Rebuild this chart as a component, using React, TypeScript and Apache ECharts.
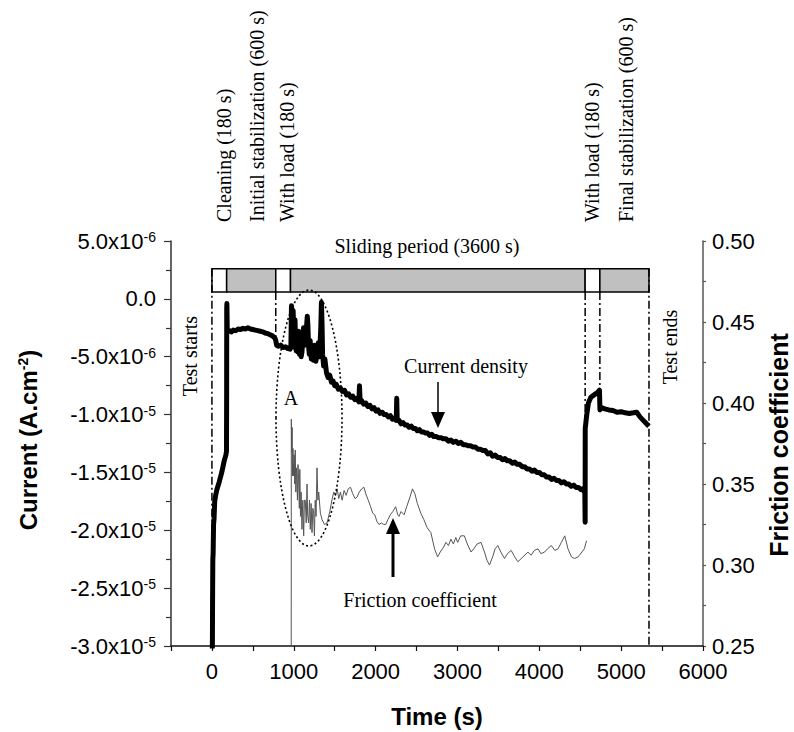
import React, { useEffect, useRef } from "react";
import * as echarts from "echarts";

// ---------- data ----------
// Current density (units of 1e-6 A.cm^-2) vs time (s)
const currentTime = [
  3, 6, 8, 11, 15, 20, 26, 34, 45, 60, 90, 120, 150, 170, 178, 180, 181, 183, 185, 187, 190,
  200, 220, 240, 260, 290, 320, 350, 380, 410, 440, 470, 500, 530, 560, 590, 620, 650, 680, 710, 740, 770, 780,
  790, 810, 840, 870, 900, 930, 955, 965, 972, 978, 985, 992, 1000, 1008, 1015, 1022, 1030, 1040, 1050,
  1060, 1070, 1080, 1090, 1100, 1110, 1120, 1135, 1150, 1165, 1172, 1180, 1190, 1200, 1215, 1228, 1240,
  1255, 1270, 1285, 1300, 1315, 1330, 1338, 1345, 1352, 1365, 1380,
  1400, 1420, 1440, 1460, 1480, 1500, 1520, 1545, 1570, 1595, 1620, 1645, 1670, 1695, 1720, 1745, 1770,
  1795, 1803, 1811, 1830, 1855, 1880, 1905, 1930, 1955, 1980, 2005, 2030, 2055, 2080, 2105, 2130, 2155,
  2180, 2205, 2230, 2252, 2258, 2264, 2285, 2310, 2335, 2360, 2385, 2410, 2435, 2460, 2485, 2510, 2535,
  2560, 2585, 2610, 2635, 2660, 2685, 2710, 2740, 2770, 2800, 2830, 2860, 2890, 2920, 2950, 2980, 3010,
  3040, 3070, 3100, 3130, 3160, 3190, 3220, 3250, 3280, 3310, 3340, 3370, 3400, 3430, 3460, 3490, 3520,
  3550, 3580, 3610, 3640, 3670, 3700, 3730, 3760, 3790, 3820, 3850, 3880, 3910, 3940, 3970, 4000, 4030,
  4060, 4090, 4120, 4150, 4180, 4210, 4240, 4270, 4300, 4330, 4360, 4390, 4420, 4450, 4480, 4510, 4540,
  4556, 4560, 4561, 4580, 4600, 4630, 4670, 4710, 4735, 4741, 4760, 4800, 4850, 4900, 4950, 5000, 5050,
  5100, 5150, 5190, 5230, 5270, 5310, 5340,
];
const currentValue = [
  -31, -29.5, -26, -22.5, -22, -19.5, -19, -17.5, -17, -16.5, -15.8, -15, -14, -13.5, -13.2, -8, -0.8, -0.4, -1.5, -2.6, -2.9,
  -2.8, -2.75, -2.85, -2.7, -2.75, -2.6, -2.65, -2.55, -2.6, -2.5, -2.6, -2.65, -2.7, -2.75, -2.8, -2.85, -2.95, -3.0, -3.1, -3.2, -3.4, -3.6,
  -4.0, -4.1, -4.0, -4.2, -4.15, -4.3, -4.35, -4.0, -0.6, -1.2, -3.5, -1.0, -2.5, -4.2, -1.8, -3.6, -4.5, -3.2, -4.6,
  -2.8, -4.8, -3.8, -5.0, -4.6, -3.5, -2.5, -4.0, -3.0, -1.5, -2.2, -4.0, -4.8, -3.6, -5.2, -4.2, -5.3,
  -4.0, -5.4, -4.8, -3.8, -5.0, -2.5, -0.3, -2.0, -4.8, -5.8, -5.2,
  -6.4, -6.8, -6.6, -7.2, -7.1, -7.5, -7.4, -7.8, -7.7, -8.0, -7.9, -8.3, -8.2, -8.5, -8.4, -8.7, -8.6,
  -8.9, -7.5, -8.9, -8.8, -9.1, -9.0, -9.3, -9.2, -9.5, -9.4, -9.7, -9.6, -9.9, -9.8, -10.0, -10.0, -10.2,
  -10.1, -10.4, -10.3, -10.5, -8.6, -10.5, -10.5, -10.8, -10.7, -10.9, -10.9, -11.1, -11.0, -11.2, -11.2, -11.4, -11.3,
  -11.5, -11.5, -11.6, -11.6, -11.8, -11.7, -11.9, -11.9, -12.0, -12.0, -12.1, -12.1, -12.3, -12.2, -12.4, -12.3, -12.5,
  -12.4, -12.6, -12.6, -12.7, -12.7, -12.8, -12.8, -13.0, -13.0, -13.1, -13.1, -13.4, -13.3, -13.6, -13.5, -13.7, -13.7,
  -13.9, -13.8, -14.0, -14.0, -14.2, -14.1, -14.3, -14.3, -14.5, -14.5, -14.7, -14.7, -14.9, -14.8, -15.0, -15.0, -15.2,
  -15.2, -15.4, -15.4, -15.6, -15.5, -15.7, -15.7, -15.9, -15.8, -16.0, -16.0, -16.2, -16.1, -16.3, -16.3, -16.5, -16.4,
  -16.8, -19.3, -11.2, -10.0, -9.0, -8.5, -8.3, -8.1, -7.9, -9.6, -9.4, -9.5, -9.6, -9.65, -9.8, -9.75, -9.85,
  -9.9, -9.85, -9.8, -10.2, -10.5, -10.8, -11.0,
];

// Friction coefficient vs time (s)
const frictionTime = [
  965, 969, 970, 975, 980, 985, 990, 998, 1005, 1012, 1018, 1025, 1035, 1045, 1052, 1059, 1068, 1074, 1082,
  1090, 1100, 1110, 1121, 1130, 1141, 1152, 1162, 1170, 1182, 1192, 1202, 1212, 1223, 1233, 1243, 1252, 1262,
  1272, 1284, 1295, 1305, 1325, 1346, 1375, 1407, 1440, 1470, 1489, 1510, 1530, 1550, 1570, 1591, 1615, 1640,
  1665, 1693, 1720, 1750, 1775, 1800, 1830, 1857, 1880, 1910, 1939, 1965, 1990, 2015, 2041, 2070, 2100, 2123,
  2150, 2180, 2210, 2245, 2270, 2286, 2310, 2348, 2380, 2420, 2450, 2480, 2510, 2552, 2590, 2630, 2675, 2720,
  2757, 2790, 2830, 2859, 2890, 2920, 2950, 2980, 3002, 3040, 3084, 3120, 3166, 3200, 3240, 3288, 3330, 3360,
  3391, 3430, 3460, 3493, 3530, 3575, 3610, 3656, 3700, 3738, 3800, 3861, 3900, 3940, 3984, 4020, 4065, 4100,
  4147, 4190, 4229, 4270, 4311, 4350, 4393, 4430, 4474, 4520, 4550, 4577,
];
const frictionValue = [
  0.2, 0.25, 0.39, 0.37, 0.385, 0.355, 0.372, 0.355, 0.368, 0.35, 0.371, 0.345, 0.36, 0.34, 0.362, 0.353, 0.335, 0.359, 0.33,
  0.345, 0.322, 0.34, 0.318, 0.34, 0.34, 0.326, 0.35, 0.33, 0.326, 0.34, 0.322, 0.338, 0.32, 0.335, 0.332, 0.318, 0.34,
  0.33, 0.36, 0.34, 0.345, 0.332, 0.328, 0.325, 0.326, 0.333, 0.341, 0.345, 0.343, 0.347, 0.341, 0.345, 0.34, 0.346, 0.343,
  0.347, 0.348, 0.344, 0.341, 0.342, 0.345, 0.347, 0.348, 0.344, 0.34, 0.336, 0.332, 0.331, 0.327, 0.325, 0.326, 0.325, 0.325,
  0.328, 0.331, 0.333, 0.336, 0.331, 0.33, 0.333, 0.331, 0.336, 0.342, 0.347, 0.344, 0.338, 0.332, 0.328, 0.323, 0.32, 0.31,
  0.305, 0.308, 0.311, 0.314, 0.312, 0.316, 0.313, 0.317, 0.314, 0.318, 0.318, 0.313, 0.308, 0.31, 0.313, 0.314, 0.308, 0.303,
  0.3, 0.305, 0.31, 0.312, 0.308, 0.304, 0.307, 0.309, 0.305, 0.302, 0.305, 0.308, 0.306, 0.309, 0.31, 0.307, 0.308, 0.31,
  0.312, 0.309, 0.31, 0.314, 0.318, 0.31, 0.305, 0.304, 0.305, 0.308, 0.31, 0.315,
];

// Test phases (s)
const phaseStart = [0, 180, 780, 960, 4560, 4740];
const phaseEnd = [180, 780, 960, 4560, 4740, 5340];
const phaseShaded = [false, true, false, true, false, true];

// Phase boundary markers (s)
const markerTime = [0, 780, 4560, 4740, 5340];

// Axis ticks
const xTicks = [0, 1000, 2000, 3000, 4000, 5000, 6000];

// ---------- styling / layout ----------
const SANS = "'Liberation Sans', Arial, sans-serif";
const SERIF = "'Liberation Serif', 'Times New Roman', serif";
const BAR_BOTTOM = 0.6;
const BAR_TOP = 2.6;
const MARKER_TOP = [2.6, 0.6, 0.6, 0.6, 2.6];
const MARKER_BOTTOM = [-30, -3.6, -11.2, -7.9, -30];

const sciLabel = (v: number) => {
  if (Math.abs(v) < 1e-9) return "{m|0.0}";
  const val = v * 1e-6;
  const exp = Math.floor(Math.log10(Math.abs(val)) + 1e-9);
  const mant = (val / Math.pow(10, exp)).toFixed(1);
  return `{m|${mant}x10}{e|${exp}}`;
};

export default function App() {
  const ref = useRef<HTMLDivElement>(null);
  useEffect(() => {
    document.body.style.margin = "0";
    const chart = echarts.init(ref.current!, null, { renderer: "svg" });

    const serifText = (text: string, x: number, y: number, rot: number, align: string) => ({
      type: "text",
      x,
      y,
      rotation: rot,
      style: {
        text,
        font: `20px ${SERIF}`,
        fill: "#000",
        align,
        verticalAlign: "middle",
      },
      z: 10,
    });

    chart.setOption({
      animation: false,
      backgroundColor: "#fff",
      grid: { left: 171, right: 91, top: 241, bottom: 86 },
      xAxis: {
        type: "value",
        min: -500,
        max: 6000,
        interval: 500,
        axisLine: { onZero: false, lineStyle: { color: "#111", width: 1.5 } },
        axisTick: { show: true, length: 5, lineStyle: { color: "#111", width: 1.2 } },
        axisLabel: {
          margin: 14,
          fontFamily: SANS,
          fontSize: 22,
          color: "#000",
          formatter: (v: number) => (xTicks.indexOf(v) >= 0 ? String(v) : ""),
        },
        splitLine: { show: false },
      },
      yAxis: [
        {
          type: "value",
          position: "left",
          min: -30,
          max: 5,
          interval: 5,
          axisLine: { show: true, onZero: false, lineStyle: { color: "#333", width: 1.5 } },
          axisTick: { show: true, length: 7, lineStyle: { color: "#333", width: 1.2 } },
          minorTick: { show: true, splitNumber: 2, length: 5, lineStyle: { color: "#333", width: 1.2 } },
          axisLabel: {
            margin: 15,
            color: "#000",
            formatter: sciLabel,
            rich: {
              m: { fontFamily: SANS, fontSize: 22, color: "#000" },
              e: { fontFamily: SANS, fontSize: 14, color: "#000", verticalAlign: "top" },
            },
          },
          splitLine: { show: false },
        },
        {
          type: "value",
          position: "right",
          min: 0.25,
          max: 0.5,
          interval: 0.05,
          axisLine: { show: true, onZero: false, lineStyle: { color: "#555", width: 1.5 } },
          axisTick: { show: true, length: 3, lineStyle: { color: "#555", width: 1.2 } },
          minorTick: { show: true, splitNumber: 2, length: 3, lineStyle: { color: "#555", width: 1.2 } },
          axisLabel: {
            margin: 9,
            fontFamily: SANS,
            fontSize: 22,
            color: "#000",
            formatter: (v: number) => v.toFixed(2),
          },
          splitLine: { show: false },
        },
      ],
      series: [
        {
          name: "Friction coefficient",
          type: "line",
          yAxisIndex: 1,
          data: frictionTime.map((t, i) => [t, frictionValue[i]]),
          showSymbol: false,
          symbol: "none",
          clip: true,
          lineStyle: { color: "#555", width: 1 },
          z: 4,
        },
        {
          name: "Current density",
          type: "line",
          yAxisIndex: 0,
          data: currentTime.map((t, i) => [t, currentValue[i]]),
          showSymbol: false,
          symbol: "none",
          clip: true,
          lineStyle: { color: "#000", width: 5, join: "round" },
          z: 5,
        },
        {
          name: "phases",
          type: "custom",
          yAxisIndex: 0,
          data: phaseStart.map((s, i) => [s, phaseEnd[i], phaseShaded[i] ? 1 : 0]),
          encode: { x: [0, 1] },
          renderItem: (_p: any, api: any) => {
            const a = api.coord([api.value(0), BAR_TOP]);
            const b = api.coord([api.value(1), BAR_BOTTOM]);
            return {
              type: "rect",
              shape: { x: a[0], y: a[1], width: b[0] - a[0], height: b[1] - a[1] },
              style: { fill: api.value(2) ? "#c0c0c0" : "#fff", stroke: "#000", lineWidth: 1.5 },
            };
          },
          z: 6,
        },
        {
          name: "markers",
          type: "custom",
          yAxisIndex: 0,
          data: markerTime.map((t, i) => [t, i]),
          encode: { x: 0 },
          renderItem: (_p: any, api: any) => {
            const i = api.value(1);
            const a = api.coord([api.value(0), MARKER_TOP[i]]);
            const b = api.coord([api.value(0), MARKER_BOTTOM[i]]);
            return {
              type: "line",
              shape: { x1: a[0], y1: a[1], x2: b[0], y2: b[1] },
              style: { stroke: "#000", lineWidth: 1.5, lineDash: [8, 3, 2, 3] },
            };
          },
          z: 7,
        },
      ],
      graphic: [
        // Axis titles
        {
          type: "text",
          x: 28,
          y: 440,
          rotation: Math.PI / 2,
          style: {
            text: "{b|Current (A.cm}{s|-2}{b|)}",
            align: "center",
            verticalAlign: "middle",
            rich: {
              b: { fontFamily: SANS, fontSize: 24, fontWeight: "bold", fill: "#000" },
              s: { fontFamily: SANS, fontSize: 14, fontWeight: "bold", fill: "#000", verticalAlign: "top" },
            },
          },
        },
        {
          type: "text",
          x: 779,
          y: 445,
          rotation: Math.PI / 2,
          style: {
            text: "Friction coefficient",
            font: `bold 25px ${SANS}`,
            fill: "#000",
            align: "center",
            verticalAlign: "middle",
          },
        },
        {
          type: "text",
          x: 437,
          y: 716,
          style: {
            text: "Time (s)",
            font: `bold 24px ${SANS}`,
            fill: "#000",
            align: "center",
            verticalAlign: "middle",
          },
        },
        // Phase labels
        serifText("Cleaning (180 s)", 224, 222, Math.PI / 2, "left"),
        serifText("Initial stabilization (600 s)", 257, 222, Math.PI / 2, "left"),
        serifText("With load (180 s)", 287, 222, Math.PI / 2, "left"),
        serifText("With load (180 s)", 592, 222, Math.PI / 2, "left"),
        serifText("Final stabilization (600 s)", 626, 222, Math.PI / 2, "left"),
        serifText("Sliding period (3600 s)", 427, 246, 0, "center"),
        serifText("Test starts", 190, 356, Math.PI / 2, "center"),
        serifText("Test ends", 670, 347, Math.PI / 2, "center"),
        serifText("Current density", 466, 366, 0, "center"),
        serifText("Friction coefficient", 420, 600, 0, "center"),
        serifText("A", 291, 398, 0, "center"),
        // Ellipse around region A
        {
          type: "ellipse",
          shape: { cx: 309, cy: 418, rx: 33, ry: 128 },
          style: { fill: "none", stroke: "#000", lineWidth: 1.6, lineDash: [2, 2.5] },
          z: 9,
        },
        // Current density arrow
        {
          type: "line",
          shape: { x1: 438, y1: 382, x2: 438, y2: 414 },
          style: { stroke: "#000", lineWidth: 1.5 },
          z: 9,
        },
        {
          type: "polygon",
          shape: { points: [[431, 412], [445, 412], [438, 428]] },
          style: { fill: "#000" },
          z: 9,
        },
        // Friction coefficient arrow
        {
          type: "line",
          shape: { x1: 393, y1: 577, x2: 393, y2: 532 },
          style: { stroke: "#000", lineWidth: 3 },
          z: 9,
        },
        {
          type: "polygon",
          shape: { points: [[386, 534], [400, 534], [393, 518]] },
          style: { fill: "#000" },
          z: 9,
        },
      ],
    });
    return () => chart.dispose();
  }, []);
  return <div ref={ref} style={{ width: 794, height: 732 }} />;
}
